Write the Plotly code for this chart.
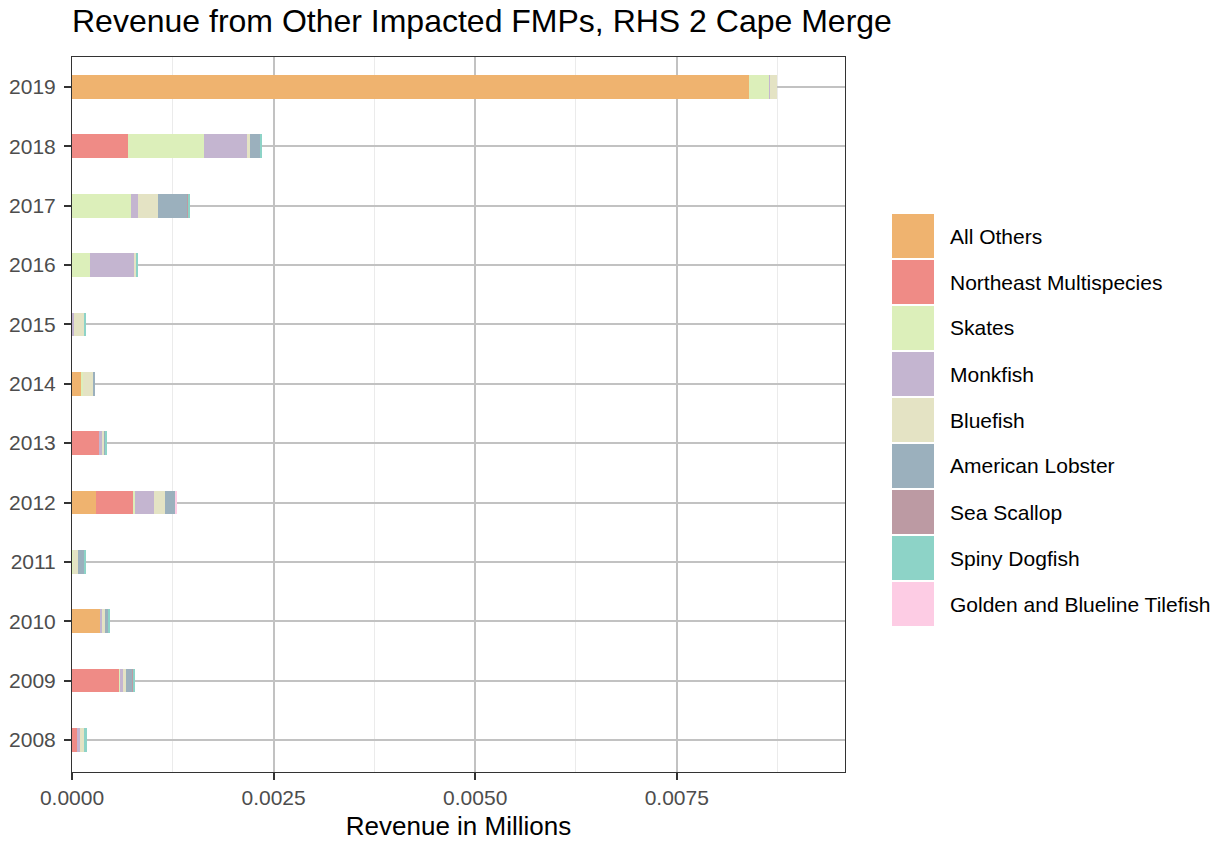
import plotly.graph_objects as go

years = ['2008', '2009', '2010', '2011', '2012', '2013', '2014', '2015', '2016', '2017', '2018', '2019']

series_names = ['All Others', 'Northeast Multispecies', 'Skates', 'Monkfish', 'Bluefish',
                'American Lobster', 'Sea Scallop', 'Spiny Dogfish', 'Golden and Blueline Tilefish']

all_others   = [0, 0, 0.000347, 0, 0.000298, 0, 0.000112, 0, 0, 0, 0, 0.008395]
ne_multi     = [0.000062, 0.000583, 0, 0, 0.000459, 0.000335, 0, 0, 0, 0, 0.000694, 0]
skates       = [0, 0.000012, 0, 0.000012, 0.000025, 0, 0.000025, 0, 0.000223, 0.000731, 0.000942, 0.000252]
monkfish     = [0.000037, 0.000037, 0.000025, 0, 0.000236, 0.000037, 0, 0.000025, 0.000545, 0.000087, 0.000533, 0.000012]
bluefish     = [0.000062, 0.000037, 0.000037, 0.000062, 0.000136, 0.000025, 0.000124, 0.000136, 0.000033, 0.000248, 0.000037, 0.000083]
lobster      = [0, 0.000087, 0.000033, 0.000087, 0.000124, 0.000012, 0.000012, 0, 0, 0.000372, 0.000136, 0]
sea_scallop  = [0, 0.000004, 0, 0, 0, 0, 0, 0, 0, 0.000004, 0, 0]
dogfish      = [0.00002, 0.000012, 0.000029, 0.000012, 0, 0.000025, 0, 0.000012, 0.000012, 0.000012, 0.000005, 0]
tilefish     = [0, 0, 0, 0, 0.000012, 0, 0, 0, 0, 0, 0, 0]

series_values = [all_others, ne_multi, skates, monkfish, bluefish, lobster, sea_scallop, dogfish, tilefish]
colors = ['#EFB36F', '#EF8B86', '#DCEFBA', '#C4B5D0', '#E4E3C4', '#9BB0BD', '#BC9AA3', '#8DD3C7', '#FDCCE4']

x_ticks = [0, 0.0025, 0.005, 0.0075]
x_tick_labels = ['0.0000', '0.0025', '0.0050', '0.0075']

W, H = 1223, 843
L, R, T, B = 72, 845, 57, 772

fig = go.Figure()
for name, vals, col in zip(series_names, series_values, colors):
    fig.add_trace(go.Bar(y=years, x=vals, name=name, orientation='h',
                         marker=dict(color=col, line=dict(width=0)), showlegend=False))

font_family = 'Liberation Sans, Arial, sans-serif'

fig.update_layout(
    width=W, height=H,
    margin=dict(l=L, r=W - R, t=T, b=H - B, pad=0, autoexpand=False),
    barmode='stack', bargap=0.6,
    plot_bgcolor='white', paper_bgcolor='white',
    font=dict(family=font_family, color='#4D4D4D'),
    title=dict(text='Revenue from Other Impacted FMPs, RHS 2 Cape Merge',
               x=L / W, xanchor='left', xref='container',
               y=1 - 21 / H, yanchor='middle', yref='container',
               font=dict(size=32, color='black', family=font_family)),
    xaxis=dict(range=[0, 0.009586], tickvals=x_ticks, ticktext=x_tick_labels,
               automargin=False,
               showgrid=True, gridcolor='#C2C2C2', gridwidth=2,
               minor=dict(tickvals=[0.00125, 0.00375, 0.00625, 0.00875], showgrid=True,
                          gridcolor='#EBEBEB', gridwidth=1, ticks=''),
               zeroline=False, showline=True, linecolor='#333333', linewidth=1, mirror=True,
               ticks='outside', ticklen=7, tickwidth=2, tickcolor='#333333',
               tickfont=dict(size=21, color='#4D4D4D'),
               title=dict(text='Revenue in Millions', font=dict(size=26, color='black'), standoff=8)),
    yaxis=dict(type='category', categoryorder='array', categoryarray=years,
               range=[-0.54, 11.505], automargin=False,
               showgrid=True, gridcolor='#C2C2C2', gridwidth=2,
               zeroline=False, showline=True, linecolor='#333333', linewidth=1, mirror=True,
               ticks='outside', ticklen=7, tickwidth=2, tickcolor='#333333',
               tickfont=dict(size=21, color='#4D4D4D'), ticklabelstandoff=4),
)

# Manual ggplot-style legend
def px_to_paper_x(px):
    return (px - L) / (R - L)

def px_to_paper_y(py):
    return (B - py) / (B - T)

row_top = 214
row_h = 46
for i, (name, col) in enumerate(zip(series_names, colors)):
    y0 = row_top + i * row_h
    fig.add_shape(type='rect', xref='paper', yref='paper',
                  x0=px_to_paper_x(892), x1=px_to_paper_x(934),
                  y0=px_to_paper_y(y0 + 44), y1=px_to_paper_y(y0),
                  fillcolor=col, line=dict(width=0), layer='above')
    fig.add_annotation(xref='paper', yref='paper',
                       x=px_to_paper_x(948), y=px_to_paper_y(y0 + 22),
                       text=name, showarrow=False, xanchor='left', yanchor='middle',
                       font=dict(size=21, color='black', family=font_family))

fig.write_html('out.html', config={'displayModeBar': False},
               post_script="document.body.style.margin='0';document.body.style.overflow='hidden';")
